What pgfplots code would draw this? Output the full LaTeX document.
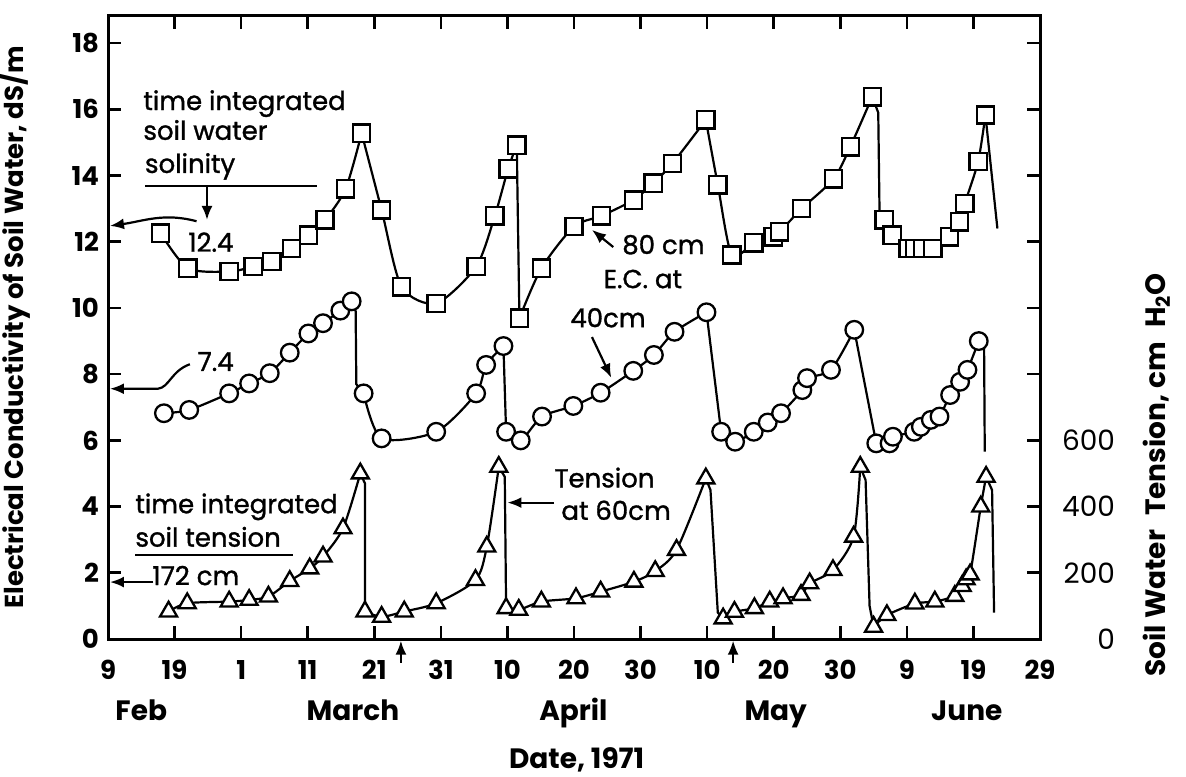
\documentclass[border=0pt]{standalone}
\usepackage{fontspec}
\setmainfont{Poppins}
\usepackage{pgfplots}
\pgfplotsset{compat=1.18}
\usetikzlibrary{arrows.meta}
\newcommand\fnt[1]{\fontsize{#1}{#1}\selectfont}
\newcommand\ann{\fnt{13}\addfontfeatures{FakeBold=1.2}}
\tikzset{ar/.style={black, line width=1.1pt, -{Latex[length=7pt,width=5.5pt]}}}
\pgfplotsset{
  ln/.style={black, line width=1.1pt, no markers, smooth, tension=0.45},
  dr/.style={black, line width=1.1pt, no markers, sharp plot},
  mk/.style={only marks, mark options={fill=white, draw=black, line width=1.15pt, solid}},
}
\begin{document}
\begin{tikzpicture}
\useasboundingbox (-54pt,-68.5pt) rectangle (539pt,319.5pt);
\begin{axis}[
  at={(0pt,0pt)}, anchor=south west,
  scale only axis, width=466pt, height=311.5pt,
  xmin=40, xmax=180, ymin=0, ymax=18.82,
  xtick={40,50,...,180},
  xticklabels={9,19,1,11,21,31,10,20,30,10,20,30,9,19,29},
  ytick={0,2,...,18},
  axis line style={line width=1.5pt},
  every tick/.style={black, line width=1.3pt},
  major tick length=6.5pt,
  tick align=inside,
  clip=false,
  /pgf/number format/assume math mode=true,
  xticklabel style={font=\fnt{13}\bfseries, yshift=-7pt},
  yticklabel style={font=\fnt{13}\bfseries, xshift=-1pt},
]
% ---------- lines: squares (E.C. at 80 cm)
\addplot[ln] coordinates {(47.9,12.26) (52.0,11.2) (58.2,11.1) (61.8,11.25) (64.6,11.4) (67.6,11.8) (70.1,12.2) (72.6,12.66) (75.7,13.6) (78.1,15.28)};
\addplot[ln] coordinates {(78.1,15.28) (81.1,12.96) (84.1,10.64) (89.3,10.14) (95.3,11.25) (98.1,12.78) (100.1,14.2) (101.4,14.92)};
\addplot[dr] coordinates {(101.4,14.92) (101.8,9.69)};
\addplot[ln] coordinates {(101.8,9.69) (105.1,11.2) (110.0,12.46) (114.1,12.78) (118.9,13.26) (121.9,13.77) (124.8,14.37) (129.8,15.68)};
\addplot[ln] coordinates {(129.8,15.68) (131.6,13.72) (133.7,11.6) (137.0,11.97) (139.9,12.15) (140.9,12.3) (144.2,13.0) (149.0,13.9) (151.5,14.87) (154.8,16.38)};
\addplot[dr] coordinates {(154.8,16.38) (155.7,15.9) (155.9,12.8) (156.6,12.66)};
\addplot[ln] coordinates {(156.6,12.66) (157.8,12.2) (160.2,11.8) (161.2,11.8) (162.4,11.8) (163.9,11.8) (166.4,12.15) (167.9,12.6) (168.7,13.16) (170.7,14.42) (171.8,15.83)};
\addplot[dr] coordinates {(171.8,15.83) (173.6,12.4)};
% ---------- lines: circles (E.C. at 40 cm)
\addplot[ln] coordinates {(48.4,6.82) (52.2,6.92) (58.2,7.42) (61.2,7.72) (64.3,8.03) (67.3,8.65) (70.1,9.23) (72.3,9.54) (74.9,9.92) (76.6,10.2)};
\addplot[dr] coordinates {(76.6,10.2) (77.2,9.9) (77.3,7.7) (78.4,7.42)};
\addplot[ln] coordinates {(78.4,7.42) (81.1,6.06) (89.3,6.26) (95.3,7.42) (96.8,8.28) (99.4,8.85)};
\addplot[dr] coordinates {(99.4,8.85) (99.8,6.26)};
\addplot[ln] coordinates {(99.8,6.26) (102.0,6.0) (105.2,6.72) (109.9,7.04) (114.0,7.44) (118.9,8.1) (122.0,8.58) (125.1,9.28) (129.9,9.87)};
\addplot[dr] coordinates {(129.9,9.87) (132.1,6.26)};
\addplot[ln] coordinates {(132.1,6.26) (134.2,5.96) (137.0,6.26) (139.1,6.54) (141.1,6.82) (144.3,7.52) (145.0,7.88) (148.6,8.13) (152.1,9.34)};
\addplot[dr] coordinates {(152.1,9.34) (155.4,5.91)};
\addplot[ln] coordinates {(155.4,5.91) (157.4,5.91) (157.9,6.11) (161.1,6.26) (162.1,6.41) (163.6,6.62) (164.9,6.72) (166.5,7.37) (168.0,7.77) (169.1,8.13) (170.8,9.0)};
\addplot[dr] coordinates {(170.8,9.0) (171.6,8.8) (171.7,5.66)};
% ---------- lines: triangles (tension at 60 cm, /100)
\addplot[ln] coordinates {(49.1,0.83) (51.9,1.08) (58.2,1.13) (61.2,1.18) (64.1,1.28) (67.3,1.75) (70.3,2.13) (72.3,2.49) (75.3,3.34) (77.9,5.0)};
\addplot[dr] coordinates {(77.9,5.0) (78.6,4.7) (78.6,0.83)};
\addplot[ln] coordinates {(78.6,0.83) (81.1,0.67) (84.5,0.83) (89.3,1.08) (95.2,1.78) (96.9,2.79) (98.7,5.2)};
\addplot[dr] coordinates {(98.7,5.2) (99.6,4.9) (99.8,0.93)};
\addplot[ln] coordinates {(99.8,0.93) (101.7,0.88) (105.1,1.13) (110.3,1.23) (114.0,1.43) (119.0,1.73) (122.2,2.05) (125.4,2.69) (129.8,4.85)};
\addplot[dr] coordinates {(129.8,4.85) (130.5,4.5) (131.6,0.8) (132.4,0.62)};
\addplot[ln] coordinates {(132.4,0.62) (134.1,0.82) (137.1,0.93) (139.4,1.13) (141.4,1.23) (144.1,1.33) (145.4,1.68) (148.9,2.08) (152.0,3.09) (153.0,5.2)};
\addplot[dr] coordinates {(153.0,5.2) (153.8,4.8) (154.4,1.0) (155.0,0.37)};
\addplot[ln] coordinates {(155.0,0.37) (157.0,0.72) (161.2,1.07) (164.2,1.13) (167.2,1.3) (168.3,1.6) (168.9,1.8) (169.5,1.95) (171.1,4.0) (171.9,4.9)};
\addplot[dr] coordinates {(171.9,4.9) (172.8,4.5) (173.1,0.8)};
% ---------- markers
\addplot[mk, mark=square*, mark size=4.3pt] coordinates {
(47.9,12.26) (52.0,11.2) (58.2,11.1) (61.8,11.25) (64.6,11.4) (67.6,11.8) (70.1,12.2) (72.6,12.66) (75.7,13.6) (78.1,15.28)
(81.1,12.96) (84.1,10.64) (89.3,10.14) (95.3,11.25) (98.1,12.78) (100.1,14.2) (101.4,14.92)
(101.8,9.69) (105.1,11.2) (110.0,12.46) (114.1,12.78) (118.9,13.26) (121.9,13.77) (124.8,14.37) (129.8,15.68)
(131.6,13.72) (133.7,11.6) (137.0,11.97) (139.9,12.15) (140.9,12.3) (144.2,13.0) (149.0,13.9) (151.5,14.87) (154.8,16.38)
(156.6,12.66) (157.8,12.2) (160.2,11.8) (161.2,11.8) (162.4,11.8) (163.9,11.8) (166.4,12.15) (167.9,12.6) (168.7,13.16) (170.7,14.42) (171.8,15.83)};
\addplot[mk, mark=*, mark size=4.4pt] coordinates {
(48.4,6.82) (52.2,6.92) (58.2,7.42) (61.2,7.72) (64.3,8.03) (67.3,8.65) (70.1,9.23) (72.3,9.54) (74.9,9.92) (76.6,10.2)
(78.4,7.42) (81.1,6.06) (89.3,6.26) (95.3,7.42) (96.8,8.28) (99.4,8.85)
(99.8,6.26) (102.0,6.0) (105.2,6.72) (109.9,7.04) (114.0,7.44) (118.9,8.1) (122.0,8.58) (125.1,9.28) (129.9,9.87)
(132.1,6.26) (134.2,5.96) (137.0,6.26) (139.1,6.54) (141.1,6.82) (144.3,7.52) (145.0,7.88) (148.6,8.13) (152.1,9.34)
(155.4,5.91) (157.4,5.91) (157.9,6.11) (161.1,6.26) (162.1,6.41) (163.6,6.62) (164.9,6.72) (166.5,7.37) (168.0,7.77) (169.1,8.13) (170.8,9.0)};
\addplot[mk, mark=triangle*, mark size=4.9pt] coordinates {
(49.1,0.83) (51.9,1.08) (58.2,1.13) (61.2,1.18) (64.1,1.28) (67.3,1.75) (70.3,2.13) (72.3,2.49) (75.3,3.34) (77.9,5.0)
(78.6,0.83) (81.1,0.67) (84.5,0.83) (89.3,1.08) (95.2,1.78) (96.9,2.79) (98.7,5.2)
(99.8,0.93) (101.7,0.88) (105.1,1.13) (110.3,1.23) (114.0,1.43) (119.0,1.73) (122.2,2.05) (125.4,2.69) (129.8,4.85)
(132.4,0.62) (134.1,0.82) (137.1,0.93) (139.4,1.13) (141.4,1.23) (144.1,1.33) (145.4,1.68) (148.9,2.08) (152.0,3.09) (153.0,5.2)
(155.0,0.37) (157.0,0.72) (161.2,1.07) (164.2,1.13) (167.2,1.3) (168.3,1.6) (168.9,1.8) (169.5,1.95) (171.1,4.0) (171.9,4.9)};
% ---------- annotations
\begin{scope}[every node/.style={font=\ann, inner sep=0pt}]
\node[anchor=base west] at (axis cs:45.26,15.98) {time integrated};
\node[anchor=base west] at (axis cs:45.26,15.08) {soil water};
\node[anchor=base west] at (axis cs:45.5,14.08) {solinity};
\draw[line width=1.2pt] (axis cs:45.56,13.69) -- (axis cs:71.4,13.69);
\draw[ar] (axis cs:54.87,13.69) -- (axis cs:54.87,12.66);
\node[anchor=base west] at (axis cs:52.0,11.7) {12.4};
\draw[ar] (axis cs:53.3,12.62) to[out=165,in=8] (axis cs:40.3,12.48);
\node[anchor=base west] at (axis cs:53.4,8.1) {7.4};
\draw[ar] (axis cs:52.3,8.3) .. controls (axis cs:49.5,8.1) and (axis cs:49.2,7.6) .. (axis cs:47.5,7.56) -- (axis cs:40.3,7.56);
\node[anchor=base west] at (axis cs:44.06,3.8) {time integrated};
\node[anchor=base west] at (axis cs:44.06,2.79) {soil tension};
\draw[line width=1.2pt] (axis cs:44.06,2.54) -- (axis cs:67.8,2.54);
\draw[ar] (axis cs:46.8,1.72) -- (axis cs:40.3,1.72);
\node[anchor=base west] at (axis cs:46.6,1.63) {172 cm};
\node[anchor=base west] at (axis cs:117.2,11.63) {80 cm};
\draw[ar] (axis cs:115.9,11.84) -- (axis cs:112.7,12.36);
\node[anchor=base west] at (axis cs:114.4,10.6) {E.C. at};
\node[anchor=base west] at (axis cs:109.4,9.42) {40cm};
\draw[ar] (axis cs:112.7,9.12) -- (axis cs:115.6,7.89);
\node[anchor=base west] at (axis cs:107.0,4.58) {Tension};
\node[anchor=base west] at (axis cs:108.05,3.6) {at 60cm};
\draw[ar] (axis cs:107.0,4.12) -- (axis cs:100.0,4.12);
\draw[ar] (axis cs:84.0,-0.72) -- (axis cs:84.0,-0.05);
\draw[ar] (axis cs:133.9,-0.72) -- (axis cs:133.9,-0.05);
\end{scope}
\begin{scope}[every node/.style={font=\fnt{14}\bfseries, inner sep=0pt, anchor=base}]
\node at (axis cs:45.0,-2.45) {Feb};
\node at (axis cs:76.8,-2.45) {March};
\node at (axis cs:109.9,-2.45) {April};
\node at (axis cs:140.3,-2.45) {May};
\node at (axis cs:169.0,-2.45) {June};
\node at (axis cs:110.4,-3.9) {Date, 1971};
\end{scope}
\node[rotate=90, font=\fnt{13}\bfseries, inner sep=0pt] at ([xshift=-46.5pt]rel axis cs:0,0.5) {Electrical Conductivity of Soil Water, dS/m};
\node[rotate=90, font=\fnt{14}\bfseries, inner sep=0pt] at ([xshift=58.5pt]axis cs:180,4.96) {Soil Water\enspace Tension, cm\enspace H\textsubscript{2}O};
\end{axis}
\begin{axis}[
  at={(0pt,0pt)}, anchor=south west,
  scale only axis, width=466pt, height=311.5pt,
  xmin=40, xmax=180, ymin=0, ymax=1882,
  hide x axis, axis y line*=right,
  axis line style={draw=none},
  ytick={0,200,400,600},
  major tick length=0pt,
  /pgf/number format/assume math mode=true,
  yticklabel style={font=\fnt{14}, anchor=east, xshift=41pt},
]
\end{axis}
\end{tikzpicture}
\end{document}
